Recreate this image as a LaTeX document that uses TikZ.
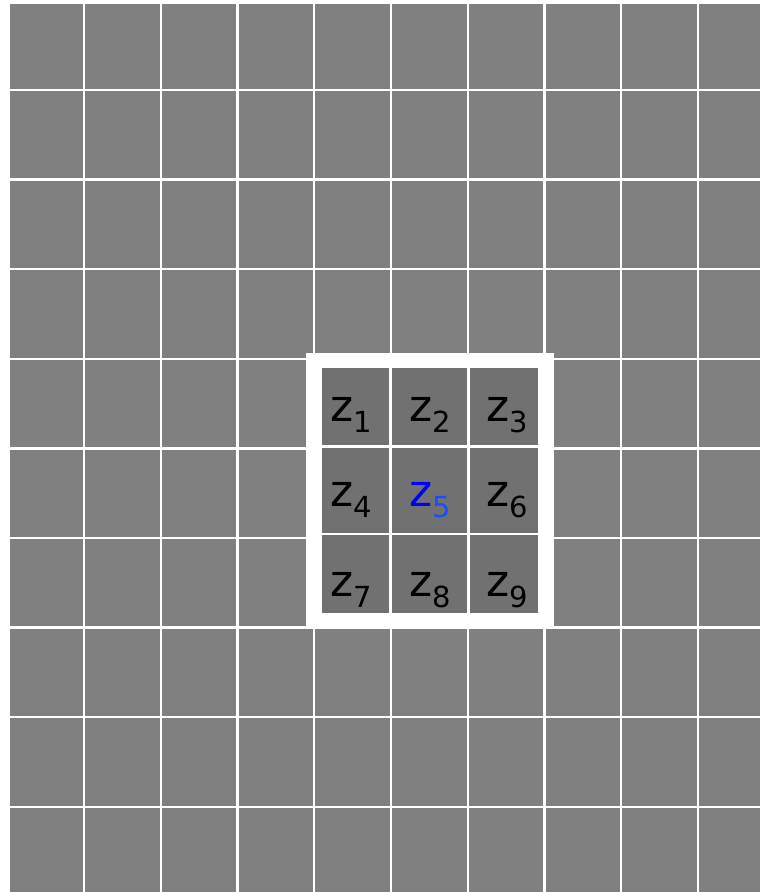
\documentclass[tikz,border=0pt]{standalone}
\usepackage{fontspec}
\setmainfont{DejaVu Sans}
\usetikzlibrary{positioning}
\definecolor{CellGray}{RGB}{128,128,128}
\definecolor{PatchGray}{RGB}{113,113,113}
\definecolor{CenterBlue}{RGB}{0,0,255}
\definecolor{SubBlue}{RGB}{26,77,255}
\newcommand{\zname}[2][black]{z\raisebox{-11pt}{\fontsize{29}{29}\selectfont\color{#1}#2}}
\tikzset{
  gridline/.style={draw=white,line width=2.4pt},
  patchline/.style={draw=white,line width=2.6pt},
  patchframe/.style={draw=white,line width=15.5pt},
  zlab/.style={font=\fontsize{44}{44}\selectfont,inner sep=0pt,anchor=base}
}

\begin{document}
\begin{tikzpicture}[x=1pt,y=-1pt]
  \useasboundingbox (0,0) rectangle (760,892);
  % background image grid
  \fill[CellGray] (10,4) rectangle (760,892);
  \foreach \i in {0,...,8}
    \draw[gridline] ({84+76.75*\i},4) -- ({84+76.75*\i},892);
  \foreach \j in {0,...,8}
    \draw[gridline] (10,{90+89.6*\j}) -- (760,{90+89.6*\j});
  % 3x3 neighbourhood
  \fill[PatchGray] (321.7,368) rectangle (537.7,613);
  \draw[patchline] (390.7,368) -- (390.7,613);
  \draw[patchline] (468.3,368) -- (468.3,613);
  \draw[patchline] (321.7,446.7) -- (537.7,446.7);
  \draw[patchline] (321.7,534) -- (537.7,534);
  \draw[patchframe] (313.9,360.4) rectangle (545.9,620.6);
  \foreach \n/\x/\y in {1/351.5/421.7,2/430/421.7,3/507/421.7,
                        4/351.5/506,6/507/506,
                        7/351.5/596,8/430/596,9/507/596}
    \node[zlab] (z\n) at (\x,\y) {\zname{\n}};
  \node[zlab,text=CenterBlue] (z5) at (430,506) {\zname[SubBlue]{5}};
\end{tikzpicture}
\end{document}
